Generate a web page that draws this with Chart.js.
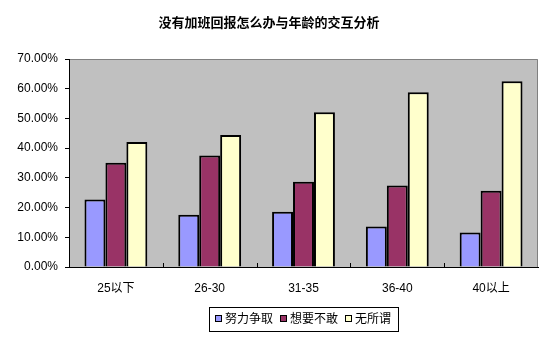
<!DOCTYPE html>
<html>
<head>
<meta charset="utf-8">
<script src="https://cdn.jsdelivr.net/npm/chart.js@4/dist/chart.umd.min.js"></script>
<style>
  html, body { margin: 0; padding: 0; background: #fff; }
  #wrap { width: 554px; height: 340px; }
</style>
</head>
<body>
<div id="wrap"><canvas id="chart" width="554" height="340"></canvas></div>
<script>
// 数据
const titleText = '没有加班回报怎么办与年龄的交互分析';
const ageGroups = ['25以下', '26-30', '31-35', '36-40', '40以上'];
const seriesNames = ['努力争取', '想要不敢', '无所谓'];
const effortValues = [22.7, 17.6, 18.6, 13.6, 11.6];
const afraidValues = [35.1, 37.5, 28.7, 27.4, 25.7];
const indifferentValues = [42.1, 44.4, 52.1, 58.8, 62.5];
const yTicks = [0, 10, 20, 30, 40, 50, 60, 70];

const colors = ['#9999FF', '#993366', '#FFFFCC'];
const font = "'Liberation Sans', 'Noto Sans CJK SC', sans-serif";

// 绘图区背景和边框
const plotArea = {
    id: 'plotArea',
    beforeDraw(chart) {
        const a = chart.chartArea, ctx = chart.ctx;
        ctx.save();
        ctx.fillStyle = '#C0C0C0';
        ctx.fillRect(a.left, a.top, a.right - a.left, a.bottom - a.top);
        ctx.strokeStyle = '#808080';
        ctx.lineWidth = 1;
        ctx.beginPath();
        ctx.moveTo(a.left, a.top + 0.5);
        ctx.lineTo(a.right - 0.5, a.top + 0.5);
        ctx.lineTo(a.right - 0.5, a.bottom);
        ctx.stroke();
        ctx.restore();
    },
    afterDatasetsDraw(chart) {
        // x轴上的刻度线（朝内）
        const a = chart.chartArea, ctx = chart.ctx, x = chart.scales.x;
        const step = x.getPixelForValue(1) - x.getPixelForValue(0);
        ctx.save();
        ctx.strokeStyle = '#000';
        ctx.lineWidth = 1;
        ctx.beginPath();
        for (let i = 1; i < ageGroups.length; i++) {
            const px = Math.round(x.getPixelForValue(i) - step / 2) + 0.5;
            ctx.moveTo(px, a.bottom);
            ctx.lineTo(px, a.bottom - 4);
        }
        ctx.stroke();
        ctx.restore();
    }
};

// 图例（带边框）
const boxLegend = {
    id: 'boxLegend',
    afterDraw(chart) {
        const ctx = chart.ctx;
        const left = 209, top = 307, h = 24;
        ctx.save();
        ctx.font = '12px ' + font;
        ctx.textBaseline = 'middle';
        let x = left + 6;
        const cy = top + h / 2;
        seriesNames.forEach((name, i) => {
            ctx.fillStyle = colors[i];
            ctx.fillRect(x, cy - 4, 7, 7);
            ctx.strokeStyle = '#000';
            ctx.lineWidth = 1;
            ctx.strokeRect(x + 0.5, cy - 3.5, 6, 6);
            x += 10;
            ctx.fillStyle = '#000';
            ctx.fillText(name, x, cy + 1);
            x += ctx.measureText(name).width + 7;
        });
        const w = x - left;
        ctx.strokeStyle = '#000';
        ctx.strokeRect(left + 0.5, top + 0.5, w, h);
        ctx.restore();
    }
};

new Chart(document.getElementById('chart'), {
    type: 'bar',
    data: {
        labels: ageGroups,
        datasets: [
            { label: seriesNames[0], data: effortValues, backgroundColor: colors[0] },
            { label: seriesNames[1], data: afraidValues, backgroundColor: colors[1] },
            { label: seriesNames[2], data: indifferentValues, backgroundColor: colors[2] }
        ].map(d => Object.assign(d, {
            borderColor: '#000',
            borderWidth: 2,
            categoryPercentage: 0.67,
            barPercentage: 1
        }))
    },
    options: {
        responsive: false,
        animation: false,
        layout: { padding: { left: 0, right: 16, top: 1, bottom: 0 } },
        plugins: {
            legend: { display: false },
            tooltip: { enabled: false },
            title: {
                display: true,
                text: titleText,
                color: '#000',
                font: { family: "'Noto Sans CJK SC', sans-serif", size: 13, weight: 'bold' },
                padding: { top: 13, bottom: 29.4 }
            }
        },
        scales: {
            x: {
                grid: { display: true, drawOnChartArea: false, drawTicks: false },
                border: { color: '#000', width: 1 },
                ticks: {
                    color: '#000',
                    font: { family: font, size: 12 },
                    padding: 14,
                    maxRotation: 0
                },
                afterFit(scale) { scale.height = 73; }
            },
            y: {
                min: 0,
                max: 70,
                afterBuildTicks(scale) { scale.ticks = yTicks.map(v => ({ value: v })); },
                grid: { drawOnChartArea: false, drawTicks: true, tickLength: 4, color: '#000' },
                border: { color: '#000', width: 1 },
                ticks: {
                    color: '#000',
                    font: { family: font, size: 12 },
                    padding: 7,
                    callback: v => v.toFixed(2) + '%'
                },
                afterFit(scale) { scale.width = 69; }
            }
        }
    },
    plugins: [plotArea, boxLegend]
});
</script>
</body>
</html>
